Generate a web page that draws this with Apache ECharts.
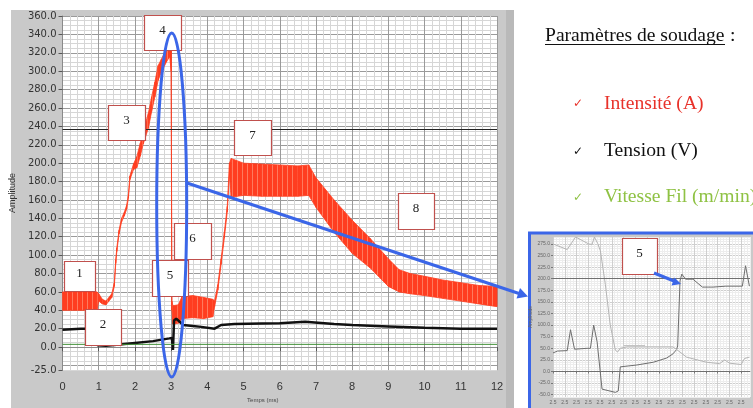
<!DOCTYPE html>
<html>
<head>
<meta charset="utf-8">
<script src="https://cdn.jsdelivr.net/npm/echarts@6/dist/echarts.min.js"></script>
<style>
html,body{margin:0;padding:0;background:#fff;}
#chart{width:753px;height:408px;}
</style>
</head>
<body>
<div id="chart"></div>
<script>
// main chart axes
var yTicks = [-25, 0, 20, 40, 60, 80, 100, 120, 140, 160, 180, 200, 220, 240, 260, 280, 300, 320, 340, 360];
var xTicks = [0, 1, 2, 3, 4, 5, 6, 7, 8, 9, 10, 11, 12];

// intensite (A) : noisy band, lower and upper edge
var redT    = [0, 0.5, 0.95, 1.0, 1.1, 1.2, 1.36, 1.43, 1.47, 1.5, 1.56, 1.63, 1.71, 1.77, 1.82, 1.86, 1.96, 2.05, 2.15, 2.23, 2.37, 2.46, 2.55, 2.64, 2.73, 2.87, 2.96, 3.0, 3.02, 3.05, 3.2, 3.3, 3.6, 3.9, 4.15, 4.2, 4.29, 4.38, 4.47, 4.55, 4.61, 4.66, 5.0, 5.5, 6.0, 6.5, 6.8, 7.0, 7.5, 8.0, 8.5, 9.0, 9.3, 9.6, 10.0, 10.5, 11.0, 11.5, 12.0];
var redLow  = [40, 40, 40, 50, 47, 46, 54, 66, 91, 104, 123, 136, 143, 150, 162, 182, 193, 195, 208, 221, 238, 256, 272, 290, 299, 310, 316, 300, 40, 25, 26, 31, 32, 31, 33, 44, 62, 90, 119, 147, 188, 163, 165, 164, 164, 164, 165, 152, 125, 102, 86, 66, 60, 58, 56, 53, 50, 47, 44];
var redHigh = [60, 60, 60, 58, 52, 50, 58, 70, 95, 108, 127, 140, 147, 154, 166, 186, 199, 207, 222, 235, 254, 272, 288, 306, 313, 324, 332, 330, 50, 45, 46, 55, 56, 54, 52, 50, 68, 96, 125, 153, 200, 205, 200, 199, 198, 197, 198, 184, 160, 138, 118, 96, 84, 80, 77, 73, 70, 67, 66];

// tension (V)
var tensionT = [0, 0.5, 0.93, 0.96, 1.2, 1.5, 2.0, 2.5, 2.95, 3.02, 3.05, 3.08, 3.14, 3.25, 3.33, 3.6, 3.83, 4.2, 4.38, 4.75, 5.5, 6.0, 6.7, 7.5, 8.0, 9.0, 10.0, 11.0, 12.0];
var tensionV = [19, 20, 20, 2, 1.5, 2.5, 4.5, 6.5, 9.5, 10, -3, 29, 31, 27, 24, 23, 22, 20, 24, 25, 25.6, 26, 27.5, 25, 24, 22.5, 21, 20, 20];

// vitesse fil (m/min)
var vitesseT = [0, 12];
var vitesseV = [3, 3];

var seuil = 237;

// inset (zoom around point 5)
var insetYTicks = [-50, -25, 0, 25, 50, 75, 100, 125, 150, 175, 200, 225, 250, 275];
var insetXTicks = [0, 1, 2, 3, 4, 5, 6, 7, 8, 9, 10, 11, 12, 13, 14, 15, 16];
var insetXLabels = ['2.5', '2.5', '2.5', '2.5', '2.5', '2.5', '2.5', '2.5', '2.5', '2.5', '2.5', '2.5', '2.5', '2.5', '2.5', '2.5', '2.5'];
var insetAX = [0, 0.37, 1.21, 1.49, 1.83, 2.9, 3.18, 3.46, 3.75, 4.17, 5.3, 5.55, 5.72, 7.13, 8.54, 9.66, 10.2, 10.5, 10.6, 10.8, 10.95, 11.27, 11.9, 12.7, 13.6, 14.7, 16.1, 16.37, 16.7];
var insetAV = [40, 44, 45, 90, 48, 50, 50, 100, 64, -38, -45, -42, 10, 14, 20, 29, 38, 47, 55, 195, 210, 199, 199, 182, 182, 184, 184, 228, 184];
var insetBX = [0, 1.21, 1.92, 3.04, 3.32, 3.52, 3.8, 4.03, 4.45, 4.87, 5.3, 5.49, 5.72, 6.28, 10.2, 10.8, 11.35, 13.04, 14.17, 14.6, 15.0, 16.0, 16.28, 16.7];
var insetBV = [275, 263, 290, 275, 274, 290, 276, 260, 188, 100, 46, 42, 50, 53, 53, 42, 31, 20, 17, 25, 18, 15, 28, 31];
var insetCX = [6.0, 7.83];
var insetCV = [56, 56];
var insetRefLines = [200, 0];

var RED = '#ff3d20';
var BLUE = '#3b66e8';
var BOXRED = '#c0504d';
var MAJOR = '#9a9a9a', MINOR = '#d6d6d6';

function pairs(xs, ys) {
	return xs.map(function(x, i){ return [x, ys[i]]; });
}

// streaky fill so the band reads like the dense noisy trace
var streak = document.createElement('canvas');
streak.width = 5; streak.height = 4;
var sctx = streak.getContext('2d');
sctx.fillStyle = RED; sctx.fillRect(0, 0, 5, 4);
sctx.fillStyle = '#ff7a5e'; sctx.fillRect(2, 0, 1, 4);
var bandFill = {image:streak, repeat:'repeat'};

// annotation boxes (layout only)
var boxes = [
	{n:'1', x:64, y:261, w:31, h:30},
	{n:'2', x:85, y:309, w:36, h:36},
	{n:'3', x:108, y:105, w:37, h:35},
	{n:'4', x:144, y:15, w:37, h:35},
	{n:'5', x:152, y:260, w:36, h:36},
	{n:'6', x:174, y:223, w:37, h:36},
	{n:'7', x:234, y:120, w:37, h:35},
	{n:'8', x:398, y:193, w:36, h:36},
	{n:'5', x:622, y:238, w:35, h:36}
];

var serif = '"Liberation Serif"';
var graphics = [
	// labview panel
	{type:'rect', z:-10, silent:true, shape:{x:11, y:10, width:503, height:398}, style:{fill:'#c9c9c9'}},
	{type:'rect', z:-9, silent:true, shape:{x:506, y:10, width:8, height:398}, style:{fill:'#b9b9b9'}},
	// inset frame
	{type:'rect', z:-10, silent:true, shape:{x:529.5, y:233, width:230, height:180}, style:{fill:'#c9c9c9', stroke:BLUE, lineWidth:3}}
];
boxes.forEach(function(b){
	graphics.push({type:'rect', z:50, silent:true, shape:{x:b.x + 0.5, y:b.y + 0.5, width:b.w, height:b.h}, style:{fill:'#fff', stroke:BOXRED, lineWidth:1.2}});
	graphics.push({type:'text', z:51, silent:true, x:b.x + b.w / 2, y:b.y + b.h / 2 - 2, style:{text:b.n, fill:'#222', font:'13px ' + serif, align:'center', verticalAlign:'middle'}});
});
graphics.push(
	{type:'ellipse', z:60, silent:true, shape:{cx:171.7, cy:205, rx:15, ry:172}, style:{fill:null, stroke:BLUE, lineWidth:3}},
	{type:'line', z:60, silent:true, shape:{x1:187, y1:183, x2:519, y2:293.5}, style:{stroke:BLUE, lineWidth:3}},
	{type:'polygon', z:60, silent:true, shape:{points:[[528, 296.5], [516.5, 298.5], [520, 288]]}, style:{fill:BLUE}},
	{type:'line', z:60, silent:true, shape:{x1:654, y1:273, x2:674, y2:281}, style:{stroke:BLUE, lineWidth:3}},
	{type:'polygon', z:60, silent:true, shape:{points:[[681, 284], [671.5, 285.5], [674.5, 277.5]]}, style:{fill:BLUE}},
	// right hand text
	{type:'text', silent:true, x:545, y:35.5, style:{text:'Paramètres de soudage', fill:'#111', font:'19.6px ' + serif, verticalAlign:'middle'}},
	{type:'line', silent:true, shape:{x1:545, y1:44.5, x2:725, y2:44.5}, style:{stroke:'#111', lineWidth:1}},
	{type:'text', silent:true, x:730, y:35.5, style:{text:':', fill:'#111', font:'19.6px ' + serif, verticalAlign:'middle'}},
	{type:'text', silent:true, x:578, y:104, style:{text:'✓', fill:'#e8322a', font:'12px "DejaVu Sans"', align:'center', verticalAlign:'middle'}},
	{type:'text', silent:true, x:604, y:104, style:{text:'Intensité (A)', fill:'#e8322a', font:'19.6px ' + serif, verticalAlign:'middle'}},
	{type:'text', silent:true, x:578, y:152, style:{text:'✓', fill:'#111', font:'12px "DejaVu Sans"', align:'center', verticalAlign:'middle'}},
	{type:'text', silent:true, x:604, y:151, style:{text:'Tension (V)', fill:'#111', font:'19.6px ' + serif, verticalAlign:'middle'}},
	{type:'text', silent:true, x:578, y:198, style:{text:'✓', fill:'#8fc244', font:'12px "DejaVu Sans"', align:'center', verticalAlign:'middle'}},
	{type:'text', silent:true, x:604, y:197, style:{text:'Vitesse Fil (m/min)', fill:'#8fc244', font:'19.6px ' + serif, verticalAlign:'middle'}}
);

var chart = echarts.init(document.getElementById('chart'));

var option = {
	animation: false,
	backgroundColor: '#fff',
	grid: [
		{left:61, top:16, width:436, height:361, show:true, backgroundColor:'#fff', borderWidth:0},
		{left:553, top:237, width:197, height:160, show:true, backgroundColor:'#fff', borderWidth:0}
	],
	xAxis: [
		{
			gridIndex:0, type:'value', min:0, max:12,
			name:'Temps (ms)', nameLocation:'middle', nameGap:26,
			nameTextStyle:{fontSize:6, color:'#444', padding:[0, 34, 0, 0]},
			axisLine:{show:true, lineStyle:{color:'#8a8a8a'}},
			axisTick:{customValues:xTicks, length:4, lineStyle:{color:'#555'}},
			axisLabel:{customValues:xTicks, fontSize:11, fontFamily:'Liberation Sans', color:'#333', margin:11},
			splitLine:{show:false}
		},
		{
			gridIndex:0, type:'value', min:0, max:12, interval:0.2, position:'top',
			axisLine:{show:false}, axisTick:{show:false}, axisLabel:{show:false},
			splitLine:{show:true, lineStyle:{color:[MAJOR, MINOR, MINOR, MINOR, MINOR], width:1}}
		},
		{
			gridIndex:1, type:'value', min:0, max:16.75,
			axisLine:{show:true, lineStyle:{color:'#999'}},
			axisTick:{customValues:insetXTicks, length:2, lineStyle:{color:'#777'}},
			axisLabel:{customValues:insetXTicks, fontSize:5, color:'#666', margin:3,
				formatter:function(v){ return insetXLabels[Math.round(v)]; }},
			splitLine:{show:false}
		},
		{
			gridIndex:1, type:'value', min:0, max:16.75, interval:0.25, position:'top',
			axisLine:{show:false}, axisTick:{show:false}, axisLabel:{show:false},
			splitLine:{show:true, lineStyle:{color:['#cfcfcf', '#ededed', '#ededed', '#ededed'], width:1}}
		}
	],
	yAxis: [
		{
			gridIndex:0, type:'value', min:-25, max:360,
			name:'Amplitude', nameLocation:'middle', nameGap:40,
			nameTextStyle:{fontSize:9, color:'#333'},
			axisLine:{show:true, lineStyle:{color:'#8a8a8a'}},
			axisTick:{show:true, customValues:yTicks, length:4, lineStyle:{color:'#555'}},
			axisLabel:{customValues:yTicks, fontSize:10, fontFamily:'DejaVu Sans', color:'#333', margin:6,
				formatter:function(v){ return v.toFixed(1); }},
			splitLine:{show:false}
		},
		{
			gridIndex:0, type:'value', min:-25, max:360, interval:5, position:'right',
			axisLine:{show:false}, axisTick:{show:false}, axisLabel:{show:false},
			splitLine:{show:true, lineStyle:{color:[MINOR, MAJOR, MINOR, MINOR], width:1}}
		},
		{
			gridIndex:1, type:'value', min:-55, max:290,
			name:'Amplitude', nameLocation:'middle', nameGap:16,
			nameTextStyle:{fontSize:5, color:'#666'},
			axisLine:{show:false},
			axisTick:{show:true, customValues:insetYTicks, length:2, lineStyle:{color:'#777'}},
			axisLabel:{customValues:insetYTicks, fontSize:5, color:'#666', margin:3,
				formatter:function(v){ return v.toFixed(1); }},
			splitLine:{show:false}
		},
		{
			gridIndex:1, type:'value', min:-55, max:290, interval:5, position:'right',
			axisLine:{show:false}, axisTick:{show:false}, axisLabel:{show:false},
			splitLine:{show:true, lineStyle:{color:['#ededed', '#cfcfcf', '#ededed', '#ededed', '#ededed'], width:1}}
		}
	],
	series: [
		{
			// the current is a dense noisy band: fill between its lower and upper edge
			name:'Intensité (A)', type:'custom', xAxisIndex:0, yAxisIndex:0, silent:true,
			data:redT.map(function(t, i){ return [t, redLow[i], redHigh[i]]; }),
			encode:{x:0, y:[1, 2]},
			renderItem:function(params, api){
				var i = params.dataIndex;
				if (i >= redT.length - 1) return null;
				var pts = [
					api.coord([redT[i], redLow[i]]),
					api.coord([redT[i], redHigh[i]]),
					api.coord([redT[i + 1], redHigh[i + 1]]),
					api.coord([redT[i + 1], redLow[i + 1]])
				];
				return {type:'polygon', shape:{points:pts}, style:{fill:bandFill, stroke:RED, lineWidth:0.8}};
			}
		},
		{
			name:'Tension (V)', type:'line', xAxisIndex:0, yAxisIndex:0,
			data:pairs(tensionT, tensionV), symbol:'none', silent:true,
			lineStyle:{color:'#111', width:2.5}
		},
		{
			name:'Vitesse Fil (m/min)', type:'line', xAxisIndex:0, yAxisIndex:0,
			data:pairs(vitesseT, vitesseV), symbol:'none', silent:true,
			lineStyle:{color:'#3f8f36', width:1},
			markLine:{silent:true, symbol:['none', 'none'], label:{show:false},
				lineStyle:{color:'#222', width:1, type:'solid'},
				data:[{yAxis:seuil}]}
		},
		{
			name:'zoom A', type:'line', xAxisIndex:2, yAxisIndex:2,
			data:pairs(insetAX, insetAV), symbol:'none', silent:true,
			lineStyle:{color:'#6e6e6e', width:1},
			markLine:{silent:true, symbol:['none', 'none'], label:{show:false},
				lineStyle:{color:'#707070', width:1, type:'solid'},
				data:insetRefLines.map(function(v){ return {yAxis:v}; })}
		},
		{
			name:'zoom B', type:'line', xAxisIndex:2, yAxisIndex:2,
			data:pairs(insetBX, insetBV), symbol:'none', silent:true,
			lineStyle:{color:'#b4b4b4', width:1}
		},
		{
			name:'zoom C', type:'line', xAxisIndex:2, yAxisIndex:2,
			data:pairs(insetCX, insetCV), symbol:'none', silent:true,
			lineStyle:{color:'#c4c4c4', width:1}
		}
	],
	graphic: graphics
};

chart.setOption(option);
</script>
</body>
</html>
